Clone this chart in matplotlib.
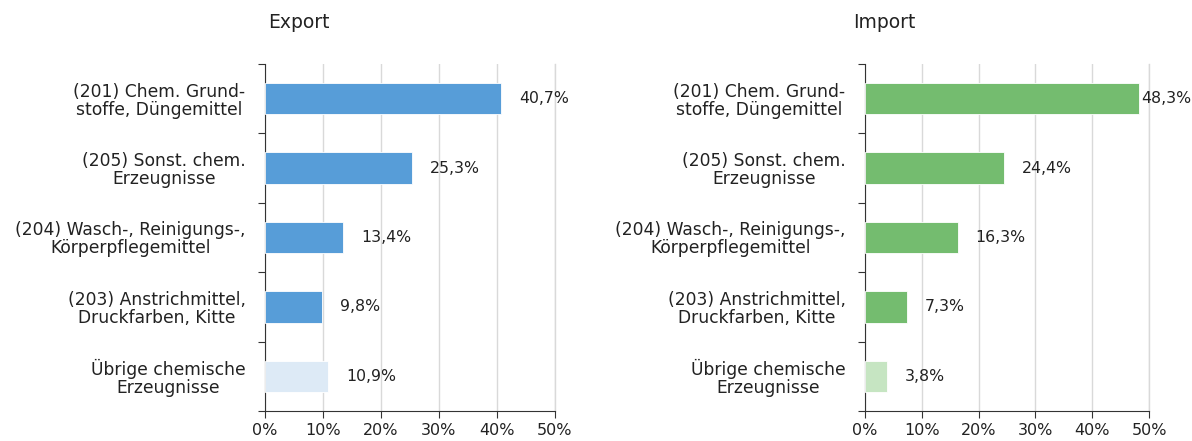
import matplotlib.pyplot as plt
from matplotlib.ticker import FuncFormatter

plt.rcParams['font.family'] = ['DejaVu Sans']

categories = ["(201) Chem. Grund-\nstoffe, Düngemittel",
              "(205) Sonst. chem.\nErzeugnisse",
              "(204) Wasch-, Reinigungs-,\nKörperpflegemittel",
              "(203) Anstrichmittel,\nDruckfarben, Kitte",
              "Übrige chemische\nErzeugnisse"]
export_vals = [40.7, 25.3, 13.4, 9.8, 10.9]
import_vals = [48.3, 24.4, 16.3, 7.3, 3.8]
xticks = [0, 10, 20, 30, 40, 50]

fig = plt.figure(figsize=(11.92, 4.41), dpi=100)
ax1 = fig.add_axes([0.2223, 0.068, 0.2433, 0.787])
ax2 = fig.add_axes([0.7257, 0.068, 0.2383, 0.787])

panels = [(ax1, export_vals, "Export", "#579DD8", "#DDEAF6", 268),
          (ax2, import_vals, "Import", "#74BC6F", "#C6E5C2", 853)]

for ax, vals, title, col, light, tx in panels:
    y = range(len(categories))
    colors = [col] * (len(vals) - 1) + [light]
    ax.barh(y, vals, height=0.45, color=colors, edgecolor="white", linewidth=0.6, zorder=3)
    ax.set_xlim(0, 50)
    ax.set_ylim(len(categories) - 0.5, -0.5)
    ax.set_xticks(xticks)
    ax.xaxis.set_major_formatter(FuncFormatter(lambda v, p: f"{v:.0f}%"))
    ax.set_yticks([i + 0.5 for i in range(-1, len(categories))])
    ax.set_yticklabels([])
    ax.set_yticks(list(y), minor=True)
    ax.set_yticklabels(categories, minor=True, ha="right", multialignment="center",
                       fontsize=12.3, color="#222222", linespacing=1.0)
    ax.tick_params(axis="y", which="minor", length=0, pad=14)
    ax.tick_params(axis="y", which="major", length=5, color="#333333")
    ax.tick_params(axis="x", length=5, color="#333333", labelsize=11.5, labelcolor="#222222")
    ax.grid(axis="x", color="#D9D9D9", linewidth=1, zorder=0)
    ax.axvline(xticks[-1], color="#D9D9D9", linewidth=1, zorder=0, clip_on=False)
    for s in ["top", "right"]:
        ax.spines[s].set_visible(False)
    for s in ["left", "bottom"]:
        ax.spines[s].set_color("#333333")
    for i, v in enumerate(vals):
        txt = f"{v:.1f}%".replace(".", ",")
        off = 1 if v > 45 else 13
        ax.annotate(txt, (v, i), xytext=(off, 0), textcoords="offset points",
                    va="center", ha="left", fontsize=11.3, color="#222222")
    fig.text(tx / 1192, 1 - 22 / 441, title, fontsize=13.5, ha="left",
             va="center", color="#222222")

fig.savefig("out.png", dpi=100)
